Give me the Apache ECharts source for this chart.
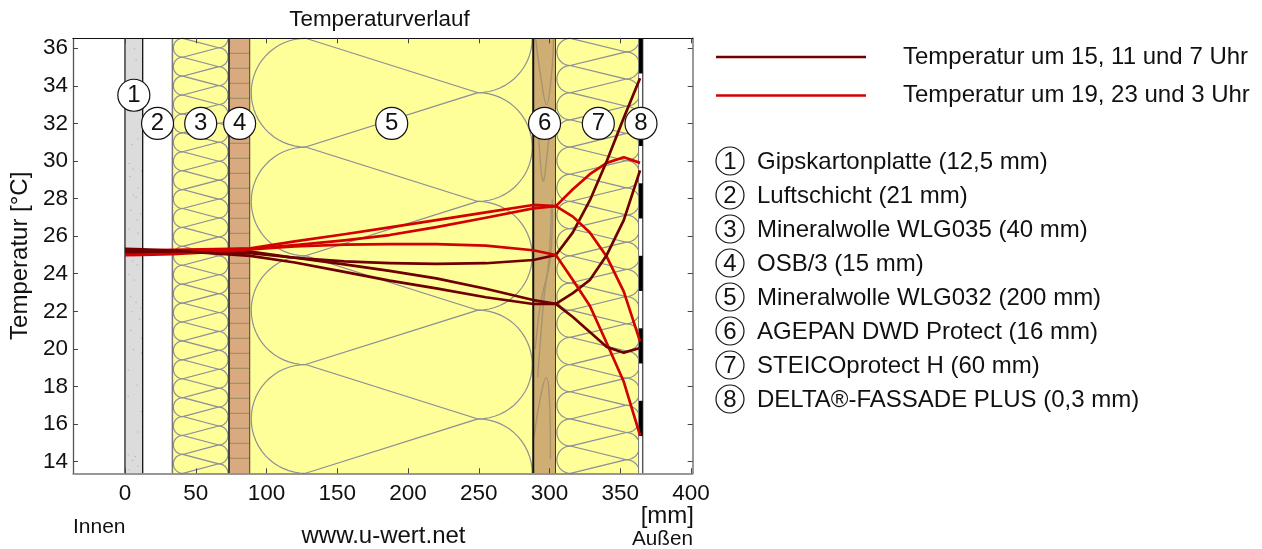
<!DOCTYPE html>
<html><head><meta charset="utf-8">
<style>html,body{margin:0;padding:0;background:#fff}#c{width:1262px;height:549px}</style>
<script src="https://cdn.jsdelivr.net/npm/echarts@6/dist/echarts.min.js"></script>
</head><body><div id="c"></div>
<script>
const xTicks=[0,50,100,150,200,250,300,350,400];
const yTicks=[14,16,18,20,22,24,26,28,30,32,34,36];
const layerNames=['Gipskartonplatte (12,5 mm)','Luftschicht (21 mm)','Mineralwolle WLG035 (40 mm)','OSB/3 (15 mm)','Mineralwolle WLG032 (200 mm)','AGEPAN DWD Protect (16 mm)','STEICOprotect H (60 mm)','DELTA®-FASSADE PLUS (0,3 mm)'];
const layerStart=[0,12.5,33.5,73.5,88.5,288.5,304.5,364.5];
const layerEnd=[12.5,33.5,73.5,88.5,288.5,304.5,364.5,364.8];
const layerKind=['gips','air','wool','osb','wool','wood','wool','foil'];
const layerLoops=[0,0,23,0,4,0,16,0];
const badgeT=[33.5,32,32,32,32,32,32,32];
const depth=[0,12.5,33.5,73.5,88.5,120,155,187,220,255,288.5,304.5,316.5,328.5,340.5,352.5,364];
const nameDark='Temperatur um 15, 11 und 7 Uhr';
const nameRed='Temperatur um 19, 23 und 3 Uhr';
const red1=[25.22,25.24,25.27,25.33,25.35,25.72,26.1,26.47,26.85,27.27,27.66,27.6,28.5,29.3,29.9,30.2,29.9];
const red2=[25.1,25.12,25.17,25.28,25.33,25.52,25.78,26.06,26.48,26.98,27.48,27.6,27.04,26.2,24.9,23.05,20.4];
const red3=[24.99,25.0,25.04,25.2,25.3,25.45,25.55,25.58,25.58,25.5,25.25,25.0,23.67,22.3,20.3,18.25,15.4];
const dark1=[25.2,25.2,25.2,25.19,25.18,24.85,24.66,24.57,24.52,24.56,24.73,25.0,26.2,27.9,30.0,32.3,34.4];
const dark2=[25.15,25.15,25.14,25.12,25.1,24.85,24.5,24.15,23.75,23.2,22.6,22.4,22.97,23.67,25.0,26.85,29.5];
const dark3=[25.33,25.3,25.23,25.03,24.95,24.6,24.1,23.63,23.22,22.75,22.39,22.4,21.7,20.9,20.1,19.8,20.05];
const woodGrain=[
 [[.11,36.5],[.33,34.5],[.59,33.0],[.8,34.5],[.9,36.5]],
 [[.2,32.4],[.43,28.94],[.69,31.16],[.83,32.4]],
 [[.84,27.96],[.76,24.86],[.33,22.46],[.09,19.98]],
 [[.8,27.5],[.7,24.86],[.47,22.66],[.2,18.5]],
 [[.04,15.37],[.33,17.5],[.57,18.47],[.71,17.5],[.76,14.13]]];
const gipsSpeck=[[.5,36],[.6,35.4],[.3,34.2],[.7,31.2],[.35,30.9],[.2,29.9],[.42,29.6],[.9,29.5],[.25,29.2],[.7,28.6],[.45,28.2],[.6,28.1],[.3,27.4],[.85,27.2],[.65,26.9],[.2,26.4],[.7,26.2],[.4,24.7],[.65,24.5],[.2,24],[.5,23.7],[.3,22.8],[.6,22.5],[.85,22.2],[.35,22],[.8,21.6],[.3,21],[.9,20.6],[.45,20],[.9,19.8],[.15,18.9],[.65,18.1],[.15,17.5],[.9,16.7],[.7,15.6],[.15,14.4],[.55,14.3],[.4,14.1],[.7,13.8],[.2,13.6]];

const xMin=-36.75,xMax=401.2,yMin=13.38,yMax=36.53;
const FONT='"Liberation Sans"';
const DARK='#6e0000',RED='#d30000',HATCH='#8f8f98';

function renderLayer(params,api){
  const i=api.value(0),kind=layerKind[i];
  const x0=api.coord([layerStart[i],yMax])[0],x1=api.coord([layerEnd[i],yMax])[0];
  const top=api.coord([0,yMax])[1],bot=api.coord([0,yMin])[1],H=bot-top;
  const ch=[];
  const rect=(x,y,w,h,fill)=>ch.push({type:'rect',shape:{x,y,width:w,height:h},style:{fill}});
  const line=(x,c,w)=>ch.push({type:'line',shape:{x1:x,y1:top,x2:x,y2:bot},style:{stroke:c,lineWidth:w}});
  const poly=(pts,c,w,sm)=>ch.push({type:'polyline',shape:{points:pts,smooth:sm||0},style:{stroke:c,lineWidth:w,fill:null}});
  if(kind==='gips'){
    rect(x0,top,x1-x0,H,'#dcdcdc');
    gipsSpeck.forEach(p=>rect(x0+p[0]*(x1-x0),api.coord([0,p[1]])[1],1,1,'#a6a6a6'));
    line(x0,'#6a6a6a',2);line(x1,'#111',1.3);
  }else if(kind==='wool'){
    rect(x0,top,x1-x0,H,'#ffff99');
    const n=layerLoops[i],P=H/n,r=P/2,xl=x0+r+1,xr=x1-r-1;
    const zig=[];
    for(let k=0;k<=n;k++){
      zig.push([xl,top+k*P]);
      if(k<n)zig.push([xr,top+k*P+r]);
    }
    poly(zig,HATCH,1.2);
    const arc=(cx,cy,sign)=>{
      const pts=[];
      for(let a=-90;a<=90;a+=6){
        const y=cy+r*Math.sin(a*Math.PI/180);
        if(y<top-0.01||y>bot+0.01)continue;
        pts.push([cx+sign*r*Math.cos(a*Math.PI/180),y]);
      }
      if(pts.length>1)poly(pts,HATCH,1.2);
    };
    for(let k=0;k<n;k++)arc(xl,top+k*P+r,-1);
    for(let k=0;k<=n;k++)arc(xr,top+k*P,1);
    if(i===2)line(x0,'#777',1.5);
  }else if(kind==='osb'){
    rect(x0,top,x1-x0,H,'#d9a97f');
    const n=29,P=H/n;
    for(let k=1;k<n;k++){const y=top+k*P;ch.push({type:'line',shape:{x1:x0,y1:y,x2:x1,y2:y},style:{stroke:'#9c8a5c',lineWidth:1}});}
    line(x0,'#444',2);line(x1,'#444',2);
  }else if(kind==='wood'){
    rect(x0,top,x1-x0,H,'#cfae74');
    woodGrain.forEach(g=>poly(g.map(p=>[x0+p[0]*(x1-x0),api.coord([0,p[1]])[1]]),'#a8946c',1.4,0.4));
    line(x0,'#111',2);line(x1,'#111',1.6);
  }else if(kind==='foil'){
    const xa=x0-2.2,xb=x1+1.6;
    rect(xa,top,xb-xa,H,'#fff');
    const P=H/6;
    for(let k=0;k<6;k++)rect(xa,top+k*P,xb-xa,P*0.485,'#000');
    ch.push({type:'line',shape:{x1:xa,y1:top,x2:xa,y2:bot},style:{stroke:'#777',lineWidth:1}});
    ch.push({type:'line',shape:{x1:xb,y1:top,x2:xb,y2:bot},style:{stroke:'#111',lineWidth:1}});
  }
  return {type:'group',children:ch};
}

const lineSeries=(name,vals,color,z)=>({type:'line',name,data:depth.map((d,i)=>[d,vals[i]]),showSymbol:false,symbol:'none',smooth:false,z,
  lineStyle:{color,width:2.7,join:'round'},itemStyle:{color},silent:true,animation:false,clip:true});

const legendGraphic=[];
layerNames.forEach((nm,i)=>{
  const y=161+i*34.0;
  legendGraphic.push({type:'circle',shape:{cx:730,cy:y,r:14},style:{fill:'#fff',stroke:'#111',lineWidth:1.2}});
  legendGraphic.push({type:'text',x:730,y:y+1,style:{text:String(i+1),font:'24px '+FONT,fill:'#111',textAlign:'center',textVerticalAlign:'middle'}});
  legendGraphic.push({type:'text',x:757,y:y+1,style:{text:nm,font:'24px '+FONT,fill:'#111',textAlign:'left',textVerticalAlign:'middle'}});
});
const note=(t,x,y,al,sz)=>({type:'text',x,y,style:{text:t,font:(sz||21)+'px '+FONT,fill:'#111',textAlign:al,textVerticalAlign:'middle'}});

const chart=echarts.init(document.getElementById('c'),null,{renderer:'canvas'});
chart.setOption({
  animation:false,backgroundColor:'#fff',
  title:{text:'Temperaturverlauf',left:374.5,top:4,textAlign:'center',textStyle:{fontFamily:FONT,fontSize:22.4,fontWeight:'normal',color:'#111'}},
  grid:{left:73,top:38.3,width:619.7,height:435,containLabel:false},
  legend:{orient:'vertical',left:711,top:40,icon:'rect',itemWidth:150,itemHeight:2.5,itemGap:14.5,
    data:[nameDark,nameRed],selectedMode:false,
    textStyle:{fontFamily:FONT,fontSize:24,color:'#111',padding:[0,0,0,32]}},
  xAxis:[
   {type:'value',min:xMin,max:xMax,position:'bottom',z:10,splitLine:{show:false},
    axisLine:{show:true,onZero:false,lineStyle:{color:'#777',width:1.5}},
    axisTick:{show:true,inside:true,length:5,lineStyle:{color:'#444',width:1},customValues:xTicks},
    axisLabel:{customValues:xTicks,margin:9,fontFamily:FONT,fontSize:22.5,color:'#111',formatter:v=>String(v)}},
   {type:'value',min:xMin,max:xMax,position:'top',z:10,splitLine:{show:false},
    axisLine:{show:true,onZero:false,lineStyle:{color:'#111',width:1.2}},
    axisTick:{show:true,inside:true,length:5,lineStyle:{color:'#444',width:1},customValues:xTicks},
    axisLabel:{show:false}}],
  yAxis:[
   {type:'value',min:yMin,max:yMax,position:'left',z:10,splitLine:{show:false},
    name:'Temperatur [°C]',nameLocation:'middle',nameGap:41,nameRotate:90,nameTextStyle:{fontFamily:FONT,fontSize:24,color:'#111'},
    axisLine:{show:true,onZero:false,lineStyle:{color:'#555',width:1.3}},
    axisTick:{show:true,inside:true,length:5,lineStyle:{color:'#444',width:1},customValues:yTicks},
    axisLabel:{customValues:yTicks,margin:5,fontFamily:FONT,fontSize:22.5,color:'#111',formatter:v=>String(v)}},
   {type:'value',min:yMin,max:yMax,position:'right',z:10,splitLine:{show:false},
    axisLine:{show:true,onZero:false,lineStyle:{color:'#777',width:1.5}},
    axisTick:{show:true,inside:true,length:5,lineStyle:{color:'#444',width:1},customValues:yTicks},
    axisLabel:{show:false}}],
  series:[
   {type:'custom',coordinateSystem:'cartesian2d',renderItem:renderLayer,data:layerStart.map((s,i)=>[i]),encode:{x:[],y:[]},silent:true,z:1,clip:false},
   lineSeries(nameRed,red1,RED,3),
   lineSeries(nameDark,dark1,DARK,3),
   lineSeries(nameRed,red2,RED,3),
   lineSeries(nameDark,dark2,DARK,3),
   lineSeries(nameRed,red3,RED,3),
   lineSeries(nameDark,dark3,DARK,3),
   {type:'scatter',z:5,silent:true,symbol:'circle',symbolSize:32,
    data:layerStart.map((s,i)=>({value:[(s+layerEnd[i])/2,badgeT[i]],label:{formatter:String(i+1)}})),
    itemStyle:{color:'#fff',borderColor:'#111',borderWidth:1.2,opacity:1},
    label:{show:true,position:'inside',fontFamily:FONT,fontSize:24,color:'#111'}}
  ],
  graphic:{elements:[...legendGraphic,
    note('Innen',73,527,'left',21),
    note('www.u-wert.net',383.5,536,'center',24),
    note('[mm]',694,516,'right',24),
    note('Außen',693,539,'right',20.7)]}
});
</script></body></html>
